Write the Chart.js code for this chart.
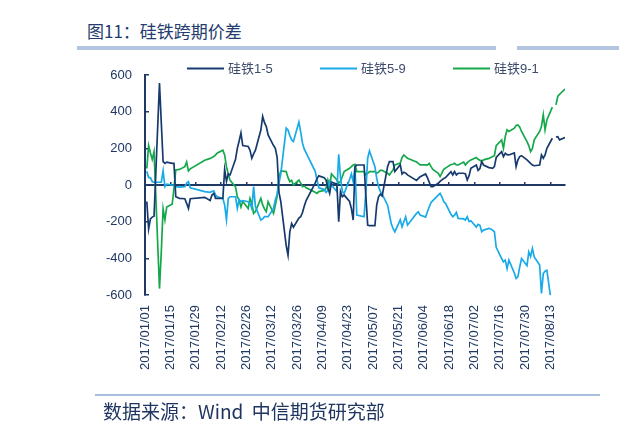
<!DOCTYPE html>
<html>
<head>
<meta charset="utf-8">
<script src="https://cdn.jsdelivr.net/npm/chart.js@4.4.0/dist/chart.umd.min.js"></script>
<style>
  html, body { margin: 0; padding: 0; background: #fff; overflow: hidden; }
  #wrap { position: relative; width: 619px; height: 442px; }
  #c { position: absolute; left: 0; top: 0; }
  .title { position: absolute; left: 87px; top: 20px; font: 17px/22px "Noto Sans CJK SC", sans-serif; color: #243c6e; white-space: nowrap; }
  .bar { position: absolute; background: #b4c7e2; }
  .foot { position: absolute; left: 103px; top: 399px; font: 19px/24px "Noto Sans CJK SC", sans-serif; color: #1f3560; white-space: nowrap; }
</style>
</head>
<body>
<div id="wrap">
  <div class="title">图11：硅铁跨期价差</div>
  <div class="bar" style="left:77px;top:46px;width:419px;height:4px"></div>
  <div class="bar" style="left:517px;top:46px;width:102px;height:4px"></div>
  <canvas id="c" width="619" height="442"></canvas>
  <div class="bar" style="left:95px;top:394px;width:505px;height:2px;background:#a7bedd"></div>
  <div class="foot">数据来源：Wind&nbsp;&nbsp;中信期货研究部</div>
</div>
<script>
// trading dates (2017, M/D)
const dates = [
  '1/2','1/3','1/4','1/5','1/6','1/9','1/10','1/11','1/12','1/13','1/16','1/17','1/18','1/20','1/23','1/24','1/25','1/26',
  '2/3','2/6','2/7','2/8','2/9','2/10','2/13','2/14','2/15','2/16','2/17','2/20','2/21','2/22','2/23','2/24','2/27','2/28',
  '3/1','3/2','3/3','3/6','3/7','3/8','3/9','3/10','3/13','3/14','3/15','3/16','3/17','3/20','3/21','3/22','3/23','3/24','3/27','3/28','3/29','3/30','3/31',
  '4/5','4/6','4/7','4/10','4/11','4/12','4/13','4/14','4/17','4/18','4/19','4/20','4/21','4/24','4/25','4/26','4/27','4/28',
  '5/2','5/3','5/4','5/5','5/8','5/9','5/10','5/11','5/12','5/15','5/16','5/17','5/18','5/19','5/22','5/23','5/24','5/25','5/26','5/31',
  '6/1','6/2','6/5','6/6','6/7','6/8','6/9','6/12','6/13','6/14','6/15','6/16','6/19','6/20','6/21','6/22','6/23','6/26','6/27','6/28','6/29','6/30',
  '7/3','7/4','7/5','7/6','7/7','7/10','7/11','7/12','7/13','7/14','7/17','7/18','7/19','7/20','7/21','7/24','7/25','7/26','7/27','7/28','7/31',
  '8/1','8/2','8/3','8/4','8/7','8/8','8/9','8/10','8/11','8/14','8/15','8/16','8/17','8/18','8/21'
];

// 硅铁1-5
const spread15 = [
  -90,-240,-185,-175,-170,556,340,128,118,125,118,118,-64,-73,-75,-100,-128,-75,
  -67,-85,-55,-46,-73,-73,-73,85,20,60,55,140,200,240,284,215,210,190,
  146,170,190,300,374,340,319,273,215,200,150,-40,-90,-330,-383,-255,-210,-230,-180,-173,-150,-115,-85,
  10,35,50,40,27,-15,-46,15,5,-200,-36,-64,-55,-90,-128,-191,100,109,
  109,-60,-219,-222,-222,-109,-64,-50,-60,100,128,128,128,73,110,60,70,65,55,25,
  36,45,60,40,15,-9,-9,9,20,28,35,40,73,55,73,55,64,64,60,27,50,91,
  109,80,90,128,109,95,93,91,100,150,182,155,173,165,164,175,100,137,155,160,137,
  128,118,109,105,109,164,146,164,200,255,null,262,264,246,259
];

// 硅铁5-9
const spread59 = [
  75,40,40,18,15,15,15,77,-9,5,0,-5,-9,-12,-9,10,18,-15,
  -36,-40,-35,-33,-55,-64,-73,-109,-190,-73,-64,-64,-128,-80,-91,-85,-91,-100,
  -128,-9,-118,-191,-185,-173,-173,-173,-128,-80,-50,10,60,310,300,270,246,237,343,290,228,195,175,
  75,30,-15,-25,-40,-30,20,0,-36,168,40,-36,-46,30,60,18,100,-164,
  -173,-36,146,186,100,36,-9,-35,-50,-110,-160,-210,-237,-255,-190,-228,-200,-173,-219,-155,
  -146,-164,-175,-146,-120,-95,-85,-55,-46,-64,-90,-100,-160,-173,-164,-150,-182,-185,-191,-173,-200,-195,
  -230,-215,-220,-255,-246,-237,-240,-246,-255,-340,-401,-419,-410,-456,-410,-480,-510,-500,-447,-401,-440,
  -365,-390,-346,-392,-437,-592,-483,-470,-465,-680,null,null,null,null,null
];

// 硅铁9-1
const spread91 = [
  90,215,175,140,182,-565,-365,-130,-190,-120,-105,-20,82,85,100,125,77,88,
  135,145,150,155,164,175,190,164,100,60,25,-10,-64,-82,-120,-90,-128,-73,
  -100,-155,-145,-73,-109,-130,-146,-91,-155,-109,-60,40,77,73,40,18,25,0,27,10,-9,-5,-15,
  -40,-46,-36,-30,-18,27,-9,60,27,10,20,46,73,91,100,109,113,73,
  73,55,64,73,73,64,70,80,80,64,55,70,82,109,120,150,164,155,146,125,
  118,110,110,109,118,100,85,64,46,65,85,92,112,113,118,109,109,125,109,122,130,137,
  150,140,135,128,137,145,150,155,160,215,246,200,264,301,292,310,325,328,315,292,237,
  215,182,200,246,292,319,383,301,355,425,null,437,483,495,523
];

const seriesNames = ['硅铁1-5', '硅铁5-9', '硅铁9-1'];
const seriesColors = ['#173a6e', '#19aae8', '#14a84b'];

const navy = '#1f3864';
const base = new Date(2017, 0, 1);

function dayOf(s) {
  const [m, d] = s.split('/').map(Number);
  return Math.round((new Date(2017, m - 1, d) - base) / 864e5);
}

function dateLabel(v) {
  const dt = new Date(2017, 0, 1 + v);
  return dt.getFullYear() + '/' + String(dt.getMonth() + 1).padStart(2, '0') + '/' + String(dt.getDate()).padStart(2, '0');
}

const xs = dates.map(dayOf);
const toPoints = vals => xs.map((x, i) => ({ x: x, y: vals[i] }));

// legend drawn above the plot, line sample + name
const lineLegend = {
  id: 'lineLegend',
  afterDraw(chart) {
    const ctx = chart.ctx;
    ctx.save();
    ctx.font = '13px "Liberation Sans", "Noto Sans CJK SC", sans-serif';
    ctx.textBaseline = 'middle';
    chart.data.datasets.forEach((ds, i) => {
      const x = 187 + i * 133, y = 68.5;
      ctx.strokeStyle = ds.borderColor;
      ctx.lineWidth = 2;
      ctx.beginPath();
      ctx.moveTo(x, y);
      ctx.lineTo(x + 37, y);
      ctx.stroke();
      ctx.fillStyle = '#3d4b6b';
      ctx.fillText(ds.label, x + 41, y + 1);
    });
    ctx.restore();
  }
};

Chart.defaults.font.family = '"Liberation Sans", Arial, "Noto Sans CJK SC", sans-serif';
Chart.defaults.font.size = 13;
Chart.defaults.color = navy;

new Chart(document.getElementById('c'), {
  type: 'line',
  data: {
    datasets: [spread15, spread59, spread91].map((vals, i) => ({
      label: seriesNames[i],
      data: toPoints(vals),
      borderColor: seriesColors[i],
      backgroundColor: seriesColors[i],
      borderWidth: 1.7,
      pointRadius: 0,
      tension: 0,
      spanGaps: false
    }))
  },
  options: {
    responsive: false,
    animation: false,
    layout: { padding: { left: 100, right: 54, top: 75, bottom: 67 } },
    plugins: { legend: { display: false }, tooltip: { enabled: false } },
    scales: {
      x: {
        type: 'linear',
        min: 0,
        max: 232,
        grid: { display: false, drawTicks: false },
        border: { display: false },
        ticks: {
          stepSize: 14,
          autoSkip: false,
          includeBounds: false,
          minRotation: 90,
          maxRotation: 90,
          padding: 10,
          color: navy,
          callback: v => dateLabel(v)
        },
        afterFit: s => { s.height = 80; }
      },
      x0: {
        type: 'linear',
        axis: 'x',
        position: { y: 0 },
        min: 0,
        max: 232,
        grid: { drawOnChartArea: false, tickLength: -4, color: navy, lineWidth: 1.5 },
        border: { color: navy, width: 2 },
        ticks: { stepSize: 14, includeBounds: false, display: false }
      },
      y: {
        min: -600,
        max: 600,
        grid: { drawOnChartArea: false, tickLength: -4, color: navy, lineWidth: 1.5 },
        border: { color: navy, width: 2 },
        ticks: { stepSize: 100, padding: 17, color: navy },
        afterFit: s => { s.width = 45; }
      }
    }
  },
  plugins: [lineLegend]
});
</script>
</body>
</html>
